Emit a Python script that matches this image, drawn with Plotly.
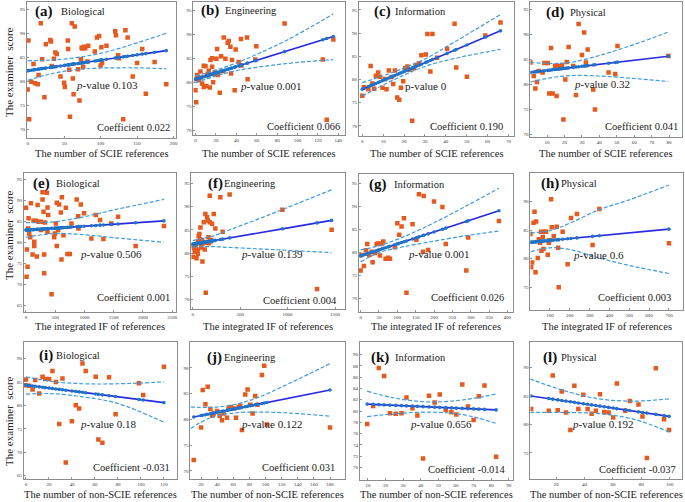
import plotly.graph_objects as go

# ---------------- data ----------------
a_x = [1, 0, 2, 5, 8, 10, 14, 15, 18, 20, 23, 25, 31, 32, 33, 36, 38, 40, 45, 50, 51, 55, 55.5, 57, 58, 60.5, 62, 63, 64.5, 69,
       71, 73, 74, 75, 77, 79, 76, 82, 83, 92, 95, 98, 101, 100, 102, 108, 120, 121, 124, 125, 131, 134, 137, 144, 150, 157, 162, 174, 190]
a_y = [88.5, 78.3, 72.1, 79.9, 83.6, 79.6, 79.4, 81.3, 92.1, 84.6, 76.7, 87.7, 88.6, 88.3, 83.2, 84.7, 86.0, 85.7, 81.0, 79.7,
       78.8, 88.5, 86.7, 82.4, 72.6, 92.1, 80.6, 77.3, 91.4, 82.5, 76.0, 84.6, 87.0, 86.8, 87.2, 86.9, 83.0, 84.1, 87.4, 86.2,
       89.1, 89.4, 87.1, 83.3, 83.8, 87.4, 90.4, 89.6, 85.4, 84.8, 72.1, 90.6, 89.1, 81.0, 83.8, 86.7, 77.4, 84.0, 79.4]

b_x = [0, 0.7, 1, 1.6, 3.3, 4.9, 6.5, 8.1, 9.8, 8.1, 10.7, 12, 13, 14, 14.7, 16.3, 16.3, 17.3, 18.6, 20.5,
       21.2, 23.8, 25.1, 27.7, 29.3, 31.6, 32.6, 34.2, 34.8, 35.8, 38.4, 39.4, 42.3, 44.6, 50.5, 51.1, 58.6, 59.6, 87.3, 124.7,
       128.6, 135.1, 5, 11, 19, 22, 27, 45]
b_y = [78.3, 75.8, 80.6, 81.5, 80.4, 82.2, 79.7, 83.4, 83.3, 79.0, 79.2, 81.7, 82.4, 78.9, 84.6, 83.2, 85.0, 80.0, 81.7, 84.9,
       86.9, 77.8, 85.4, 89.3, 84.9, 88.2, 88.6, 87.4, 81.8, 84.6, 78.3, 86.8, 84.2, 89.0, 89.3, 80.6, 84.7, 87.5, 92.2, 84.7,
       72.2, 88.9, 81.0, 81.4, 82.1, 81.5, 82.3, 83.5]

c_x = [0, 0.8, 2.9, 4, 4.8, 5.7, 6.5, 7.6, 8.4, 9.7, 10.8, 11.6, 12.7, 14, 14.8, 15.6, 16.7, 17.7, 18.5, 19.6,
       20.5, 21.6, 22.7, 23.9, 24.7, 25.6, 27.2, 28.3, 30.4, 31.2, 32.6, 33.6, 35.8, 40.6, 44.2, 45, 50.1, 58.9, 66.2]
c_y = [76.5, 78.3, 77.9, 82.9, 79.1, 78.0, 80.8, 81.5, 80.6, 78.2, 80.1, 77.9, 81.9, 80.5, 79.0, 81.9, 76.1, 75.6, 78.2, 79.6,
       82.4, 82.8, 82.1, 71.1, 82.4, 83.1, 83.5, 85.2, 85.4, 89.8, 81.7, 89.8, 84.7, 86.6, 92.0, 82.6, 80.6, 89.5, 92.3]

d_x = [0.5, 2.4, 3.3, 4.2, 5.2, 7.5, 8.5, 10.4, 11.3, 12.3, 13.2, 14.6, 15.5, 16.7, 17.4, 18.6, 19.4, 20.5, 21.3, 22.4,
       25, 26.6, 28.1, 30, 31.3, 32.3, 33.3, 36.5, 37.5, 45.3, 49.1, 50.4, 79.6]
d_y = [84.4, 81.7, 79.2, 80.5, 82.7, 82.4, 84.3, 84.3, 78.2, 87.3, 78.2, 83.7, 77.7, 83.7, 83.3, 83.9, 73.0, 81.0, 84.5, 87.5,
       83.7, 77.9, 92.1, 85.9, 90.4, 84.4, 87.0, 79.0, 75.0, 82.4, 82.1, 87.7, 85.7]

e_x = [0, 17, 28, 11, 40, 45, 57, 74, 85, 114, 130, 142, 142, 170, 187, 200, 216, 256, 256, 284,
       284, 301, 312, 312, 324, 358, 369, 381, 369, 438, 483, 494, 511, 528, 528, 551, 568, 597, 608, 614,
       642, 682, 710, 750, 778, 869, 892, 898, 938, 994, 1119, 1193, 1267, 1324, 1460, 1574, 1875, 2358]
e_y = [88.3, 78.4, 74.3, 71.9, 83.4, 85.8, 82.2, 81.3, 89.4, 77.2, 85.2, 79.2, 80.2, 85.2, 76.7, 89.0, 85.0, 83.0, 85.0, 92.0,
       90.3, 87.4, 72.7, 77.2, 84.8, 91.9, 88.4, 86.6, 82.6, 67.7, 81.3, 82.2, 84.6, 89.5, 79.2, 83.0, 89.1, 87.2, 76.0, 90.8,
       81.8, 88.3, 77.3, 77.3, 84.6, 90.3, 86.3, 83.4, 89.1, 87.0, 81.0, 86.6, 85.4, 80.9, 84.6, 86.2, 79.2, 84.0]

f_x = [0, 3, 10, 18, 21, 28, 35, 39, 46, 53, 53, 56, 63, 70, 74, 81, 88, 91, 98, 102,
       105, 116, 126, 133, 137, 140, 151, 158, 165, 168, 179, 179, 186, 193, 203, 221, 238, 291, 315, 389,
       945, 1310, 1464]
f_y = [81.7, 79.2, 81.2, 81.0, 80.3, 81.5, 81.9, 78.9, 80.5, 79.8, 82.5, 80.8, 83.7, 84.1, 83.0, 85.5, 82.0, 81.2, 82.8, 78.2,
       82.1, 86.6, 80.8, 88.4, 71.5, 82.2, 87.7, 87.0, 83.4, 82.1, 92.3, 86.6, 82.5, 82.8, 86.3, 88.4, 85.3, 92.0, 84.6, 92.6,
       89.3, 72.3, 85.0]

g_x = [0, 2.7, 9, 14.5, 18, 23.6, 30, 32.7, 39, 43.5, 48, 52.6, 57, 61.7, 68, 75, 80, 100, 105, 111.6,
       118, 125, 141.5, 152, 159, 170, 172, 184, 200, 223, 232, 288, 293, 377, 93]
g_y = [76.0, 79.4, 77.0, 80.4, 81.8, 79.4, 80.1, 77.8, 79.8, 81.8, 81.9, 79.3, 81.8, 82.3, 78.6, 78.8, 78.6, 86.3, 83.8, 85.6,
       87.4, 71.2, 86.1, 82.7, 92.6, 80.1, 92.2, 80.5, 91.0, 89.8, 81.8, 76.0, 83.2, 86.8, 81.1]

h_x = [1.7, 5, 10, 17, 22, 27, 30, 38.5, 43.6, 50, 55, 57, 63.7, 67, 72, 80, 89, 94, 97, 105.6,
       109, 119, 134, 141, 144, 164, 189, 206, 236, 315, 349, 700]
h_y = [84.3, 78.5, 79.3, 86.3, 88.2, 77.6, 86.5, 80.1, 83.4, 82.8, 84.7, 81.4, 83.8, 81.7, 84.7, 84.7, 80.7, 82.8, 83.2, 90.4,
       85.5, 83.9, 85.6, 81.9, 75.0, 84.7, 79.0, 87.1, 87.8, 82.4, 88.7, 82.7]

i_x = [0, 0, 2.9, 5.8, 8.1, 11.6, 14.5, 16.8, 20.2, 23.1, 26, 29, 31.8, 34.7, 40, 43.4, 46.3, 49.2, 52, 60.7,
       63, 66.5, 72.3, 78, 98.3, 102, 120]
i_y = [85.5, 84.3, 84.2, 83.4, 85.4, 82.5, 86.1, 85.6, 85.6, 87.3, 85.0, 76.0, 85.7, 67.8, 76.6, 80.0, 79.3, 88.9, 87.3, 86.1,
       72.7, 72.0, 86.0, 78.1, 84.7, 82.2, 88.2]

j_x = [10.9, 20, 22, 25.4, 28.2, 31.5, 33.6, 35.7, 39.8, 43.1, 46, 48, 52.2, 54.2, 57.1, 60.4, 63.3, 66.6, 68.7, 70.7,
       74.8, 77.7, 81, 83.9, 87.2, 90, 95.5, 98.4, 101.6, 180]
j_y = [72.1, 78.4, 85.7, 82.9, 86.3, 82.0, 80.7, 81.1, 81.6, 80.7, 79.8, 81.1, 80.3, 82.2, 82.4, 82.1, 80.3, 82.4, 82.6, 77.9,
       84.8, 85.8, 82.8, 81.1, 84.5, 82.8, 88.6, 90.4, 79.0, 78.4]

k_x = [9.6, 13, 16.2, 19.2, 22.5, 25.8, 29.1, 31.9, 35.3, 38.1, 41.3, 44.7, 47.9, 50.8, 54.2, 57.4, 60.2, 63.6, 66.8, 70,
       73, 76.2, 82.8]
k_y = [77.7, 80.9, 87.6, 86.2, 79.6, 79.5, 79.6, 82.4, 80.5, 79.2, 71.6, 82.7, 81.5, 82.9, 80.2, 79.8, 79.4, 84.7, 80.8, 78.4,
       82.6, 84.5, 71.9]

l_x = [2.5, 14.9, 17.7, 21.2, 24, 27, 30.1, 32.9, 35.7, 39.2, 42.2, 45, 48, 50.9, 53.9, 57, 60.2, 62.8, 68.7, 71.9,
       78, 80.8, 83.9, 90.2, 96, 99.5]
l_y = [82.7, 82.4, 88.6, 82.5, 85.8, 82.1, 79.0, 86.8, 82.7, 85.2, 82.7, 81.9, 82.4, 85.3, 82.2, 82.1, 81.2, 87.2, 82.4, 84.1,
       83.5, 81.4, 74.1, 89.9, 80.9, 79.0]

# fitted line (intercept, slope)
fit_intercepts = [82.2, 80.6, 77.9, 82.4, 83.0, 81.9, 79.2, 82.85, 84.3, 80.1, 81.35, 85.1]
fit_slopes = [0.022, 0.066, 0.19, 0.041, 0.00093, 0.0035, 0.026, 0.0033, -0.031, 0.031, -0.014, -0.037]

# confidence band curves
a_bx = [0, 30, 60, 90, 120, 150, 190]; a_up = [84.3, 84.4, 84.8, 85.5, 86.6, 88.0, 90.0]; a_lo = [80.2, 81.5, 82.3, 82.7, 82.8, 82.8, 82.6]
b_bx = [0, 20, 40, 60, 90, 135]; b_up = [81.3, 82.5, 84.0, 85.8, 88.8, 94.2]; b_lo = [79.9, 81.3, 82.4, 83.1, 83.9, 84.7]
c_bx = [0, 15, 30, 45, 66.2]; c_up = [79.3, 81.6, 84.4, 88.3, 94.0]; c_lo = [76.4, 79.9, 82.8, 84.6, 86.5]
d_bx = [0.5, 15, 25, 40, 60, 79.6]; d_up = [84.4, 84.2, 84.5, 85.8, 88.0, 90.5]; d_lo = [80.5, 81.5, 81.8, 81.7, 81.2, 80.6]
e_bx = [0, 500, 1000, 1500, 2358]; e_up = [84.8, 85.0, 86.2, 87.8, 90.3]; e_lo = [81.3, 82.2, 81.9, 81.2, 80.1]
f_bx = [0, 200, 400, 700, 1000, 1464]; f_up = [82.7, 83.6, 85.1, 87.4, 89.8, 93.6]; f_lo = [81.3, 81.4, 81.2, 80.9, 80.6, 80.1]
g_bx = [0, 50, 100, 150, 200, 280, 377]; g_up = [80.5, 81.4, 82.8, 84.5, 86.4, 89.7, 93.9]; g_lo = [77.9, 79.9, 80.9, 81.7, 82.4, 83.5, 84.6]
h_bx = [1.7, 100, 200, 350, 500, 700]; h_up = [84.5, 84.9, 86.2, 88.6, 90.3, 92.9]; h_lo = [81.2, 81.9, 81.6, 80.1, 78.8, 77.4]
i_bx = [0, 22, 50, 80, 120]; i_up = [86.1, 85.1, 84.6, 84.6, 85.0]; i_lo = [82.4, 82.5, 81.8, 80.4, 76.4]
j_bx = [7, 30, 60, 90, 130, 180]; j_up = [82.4, 82.3, 82.8, 84.2, 87.0, 90.8]; j_lo = [78.2, 80.2, 81.2, 81.4, 81.2, 80.6]
k_bx = [9.6, 25, 45, 65, 82.8]; k_up = [83.5, 82.3, 81.6, 82.0, 83.0]; k_lo = [79.0, 79.5, 79.8, 79.3, 77.8]
l_bx = [1.75, 25, 50, 75, 99.5]; l_up = [88.0, 86.0, 84.5, 84.1, 84.5]; l_lo = [82.1, 82.1, 81.9, 80.9, 78.7]

tags = ['(a)', '(b)', '(c)', '(d)', '(e)', '(f)', '(g)', '(h)', '(i)', '(j)', '(k)', '(l)']
fields = ['Biological', 'Engineering', 'Information', 'Physical'] * 3
p_values = ['0.103', '0.001', '0', '0.32', '0.506', '0.139', '0.001', '0.6', '0.18', '0.122', '0.656', '0.192']
coefficients = ['0.022', '0.066', '0.190', '0.041', '0.001', '0.004', '0.026', '0.003', '-0.031', '0.031', '-0.014', '-0.037']
x_titles = ['The number of SCIE references'] * 4 + ['The integrated IF of references'] * 4 + ['The number of non-SCIE references'] * 4
y_title = 'The examiner\u00a0\u00a0score'

x_ticks = [[0, 50, 100, 150, 200], [0, 20, 40, 60, 80, 100, 120, 140], [0, 10, 20, 30, 40, 50, 60, 70],
           [10, 20, 30, 40, 50, 60, 70, 80], [0, 500, 1000, 1500, 2000, 2500], [0, 500, 1000, 1500],
           [0, 50, 100, 150, 200, 250, 300, 350, 400], [100, 200, 300, 400, 500, 600, 700],
           [0, 20, 40, 60, 80, 100, 120], [20, 40, 60, 80, 100, 120, 140, 160, 180],
           [10, 20, 30, 40, 50, 60, 70, 80, 90], [20, 40, 60, 80, 100]]
y_ticks = [[70, 75, 80, 85, 90, 95]] * 4 + [[65, 70, 75, 80, 85, 90, 95], [70, 75, 80, 85, 90, 95],
           [70, 75, 80, 85, 90, 95], [75, 80, 85, 90]] + [[65, 70, 75, 80, 85, 90], [70, 75, 80, 85, 90],
           [70, 72, 74, 76, 78, 80, 82, 84, 86, 88, 90], [75, 80, 85, 90]]

# ---------------- layout (pixels) ----------------
W, H = 685, 502
dom_px = [(26, 176, 2, 138), (193, 345, 2, 135), (359, 515, 2, 136), (531, 683, 2, 137),
          (23, 176, 173, 312), (191, 345, 173, 309), (359, 513, 174, 312), (531, 684, 173, 310),
          (23, 177, 342, 479), (190, 345, 342, 479), (360, 513, 342, 480), (531, 683, 342, 479)]
x_ranges = [(-1, 204), (-2, 146.5), (-1.6, 72.9), (0.5, 87.4), (-34, 2573), (-14, 1605), (-4.6, 414), (1.5, 771),
            (-1.7, 131.8), (6.8, 198.6), (5.5, 92.1), (2.0, 108.6)]
y_ranges = [(68.2, 96.5), (69.0, 96.7), (67.8, 96.7), (69.5, 96.5), (63.5, 96.6), (68.0, 97.2), (67.0, 97.0), (71.0, 95.0),
            (64.3, 93.5), (68.4, 95.0), (67.8, 92.2), (70.4, 94.5)]
tag_pos = [(32, 12), (199, 11), (372, 12), (545, 13), (30, 183), (206, 183), (367, 184), (540, 183),
           (36, 355), (205, 357), (369, 357), (542, 357)]
field_left = [58, 223, 393, 569, 53, 222, 392, 560, 53, 222, 393, 560]
pval_pos = [(73, 85), (238, 86), (403, 86), (573, 84), (77, 254), (239, 254), (406, 254), (572, 255),
            (77, 424), (239, 424), (408, 424), (571, 424)]
coef_pos = [(171, 127), (342, 126), (505, 126), (681, 126), (171, 297), (339, 300), (506, 297), (674, 297),
            (172, 467), (337, 467), (508, 469), (679, 469)]
xtitle_y = [154, 326, 494]
ytitle_y = [72, 235, 421]

ORANGE = '#E55A1F'
BAND = '#3F9BE0'
LINE = '#2A2AE0'
MARK = '#1F74C8'
FONT = 'Liberation Serif'

xs_all = [a_x, b_x, c_x, d_x, e_x, f_x, g_x, h_x, i_x, j_x, k_x, l_x]
ys_all = [a_y, b_y, c_y, d_y, e_y, f_y, g_y, h_y, i_y, j_y, k_y, l_y]
bands = [(a_bx, a_up, a_lo), (b_bx, b_up, b_lo), (c_bx, c_up, c_lo), (d_bx, d_up, d_lo),
         (e_bx, e_up, e_lo), (f_bx, f_up, f_lo), (g_bx, g_up, g_lo), (h_bx, h_up, h_lo),
         (i_bx, i_up, i_lo), (j_bx, j_up, j_lo), (k_bx, k_up, k_lo), (l_bx, l_up, l_lo)]

fig = go.Figure()
layout = dict(width=W, height=H, margin=dict(l=0, r=0, t=0, b=0), paper_bgcolor='white', plot_bgcolor='white',
              showlegend=False, font=dict(family=FONT, color='#222'))
annotations = []


def px_x(p):
    return p / W


def px_y(p):
    return 1 - p / H


for i in range(12):
    n = i + 1
    sfx = '' if n == 1 else str(n)
    xa, ya = 'x' + sfx, 'y' + sfx
    xs, ys = xs_all[i], ys_all[i]
    fig.add_trace(go.Scatter(x=xs, y=ys, mode='markers', xaxis=xa, yaxis=ya,
                             marker=dict(symbol='square', size=4.5, color=ORANGE, line=dict(width=0))))
    bx, bu, bl = bands[i]
    for by in (bu, bl):
        fig.add_trace(go.Scatter(x=bx, y=by, mode='lines', xaxis=xa, yaxis=ya,
                                 line=dict(color=BAND, width=1.2, dash='4px,2px', shape='spline')))
    sx = sorted(set(xs))
    fy = [fit_intercepts[i] + fit_slopes[i] * v for v in sx]
    fig.add_trace(go.Scatter(x=sx, y=fy, mode='lines', xaxis=xa, yaxis=ya, line=dict(color=LINE, width=1.6)))
    fig.add_trace(go.Scatter(x=sx, y=fy, mode='markers', xaxis=xa, yaxis=ya,
                             marker=dict(symbol='circle', size=3.6, color=MARK, line=dict(width=0))))

    L, R, T, B = dom_px[i]
    axis_common = dict(showgrid=False, zeroline=False, showline=True, mirror=True, linecolor='#8c8c8c', linewidth=1,
                       ticks='inside', ticklen=2, tickwidth=0.8, tickcolor='#7a7a7a',
                       tickfont=dict(size=5, family=FONT, color='#333'))
    layout['xaxis' + sfx] = dict(domain=[px_x(L), px_x(R)], range=list(x_ranges[i]), anchor=ya,
                                 tickmode='array', tickvals=x_ticks[i], **axis_common)
    layout['yaxis' + sfx] = dict(domain=[px_y(B), px_y(T)], range=list(y_ranges[i]), anchor=xa,
                                 tickmode='array', tickvals=y_ticks[i], **axis_common)

    tx, ty = tag_pos[i]
    annotations.append(dict(text='<b>' + tags[i] + '</b>', x=px_x(tx), y=px_y(ty), xref='paper', yref='paper',
                            xanchor='left', yanchor='middle', showarrow=False, font=dict(size=15, family=FONT, color='#111')))
    annotations.append(dict(text=fields[i], x=px_x(field_left[i]), y=px_y(ty), xref='paper', yref='paper',
                            xanchor='left', yanchor='middle', showarrow=False, font=dict(size=10.5, family=FONT, color='#222')))
    ptxt = ('p-value ' if i == 2 else '<i>p</i>-value ') + p_values[i]
    pxp, pyp = pval_pos[i]
    annotations.append(dict(text=ptxt, x=px_x(pxp), y=px_y(pyp), xref='paper', yref='paper',
                            xanchor='left', yanchor='middle', showarrow=False, font=dict(size=11, family=FONT, color='#222')))
    cxp, cyp = coef_pos[i]
    annotations.append(dict(text='Coefficient ' + coefficients[i], x=px_x(cxp), y=px_y(cyp), xref='paper', yref='paper',
                            xanchor='right', yanchor='middle', showarrow=False, font=dict(size=10.5, family=FONT, color='#222')))
    annotations.append(dict(text=x_titles[i], x=px_x((L + R) / 2), y=px_y(xtitle_y[i // 4]), xref='paper', yref='paper',
                            xanchor='center', yanchor='middle', showarrow=False, font=dict(size=10.5, family=FONT, color='#222')))

for r in range(3):
    annotations.append(dict(text=y_title, x=px_x(8), y=px_y(ytitle_y[r]), xref='paper', yref='paper', textangle=-90,
                            xanchor='center', yanchor='middle', showarrow=False, font=dict(size=11, family=FONT, color='#222')))

layout['annotations'] = annotations
fig.update_layout(**layout)
fig.write_html('out.html', config={'displayModeBar': False, 'staticPlot': True},
               post_script="document.body.style.margin='0px';document.body.style.overflow='hidden';")
